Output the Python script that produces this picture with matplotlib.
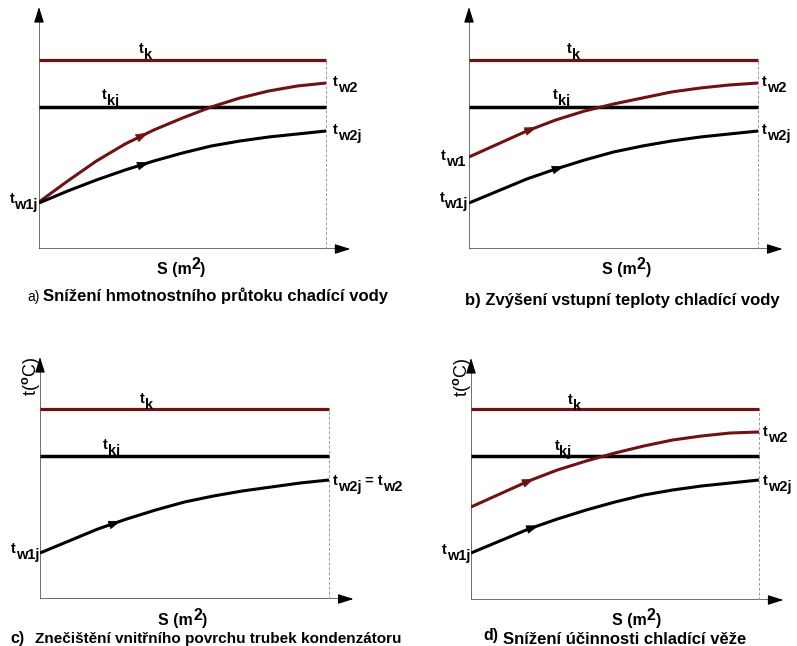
import matplotlib.pyplot as plt
import numpy as np

plt.rcParams['font.family'] = ['Liberation Sans', 'DejaVu Sans']
plt.rcParams['mathtext.fontset'] = 'custom'
plt.rcParams['mathtext.rm'] = 'Liberation Sans:bold'
plt.rcParams['mathtext.it'] = 'Liberation Sans:bold'
plt.rcParams['mathtext.bf'] = 'Liberation Sans:bold'

RED = '#6e1212'

# heat exchange area, fraction of the full length
S = [0.0, 0.1, 0.2, 0.3, 0.4, 0.5, 0.6, 0.7, 0.8, 0.9, 1.0]

# water temperature along the condenser
a_red = [47, 68, 88, 105, 119, 131, 142, 151, 158, 163, 166]
a_black = [46, 58, 69, 79, 88, 96, 103, 108, 112, 115, 118]
b_red = [92, 105, 118, 129, 138, 145, 151, 157, 161, 164, 166]
b_black = [46, 58, 70, 80, 89, 97, 103, 108, 112, 115, 118]
c_black = [46, 58, 70, 80, 89, 97, 103, 108, 112, 116, 119]
d_red = [93, 106, 119, 130, 139, 147, 154, 160, 164, 167, 168]
d_black = [47, 59, 71, 81, 90, 98, 105, 110, 114, 117, 120]

# condensation temperatures
tk = [189, 189, 190, 191]
tkj = [142, 142, 143, 144]

titles = [
    ('a)', 'Snížení hmotnostního průtoku chadící vody'),
    ('b)', 'Zvýšení vstupní teploty chladící vody'),
    ('c)', 'Znečištění vnitřního povrchu trubek kondenzátoru'),
    ('d)', 'Snížení účinnosti chladící věže'),
]

fig = plt.figure(figsize=(7.97, 6.46), dpi=100)
W, H = 797, 646

# y-axis x, x-axis y (pixels), pixels per unit S
frames = [(39, 249, 287), (469, 249, 289), (40, 599, 289), (471, 600, 288)]


def chain(ax, s, v, pieces, ha='left', fs=10.5, **kw):
    # text with sub/superscripts drawn at full size
    order = pieces if ha == 'left' else pieces[::-1]
    prev = None
    prev_dy = 0
    for txt, dy in order:
        if prev is None:
            prev = ax.annotate(txt, xy=(s, v), xytext=(0, dy), textcoords='offset points',
                               ha=ha, va='baseline', fontsize=fs, fontweight='bold',
                               annotation_clip=False, **kw)
        else:
            anchor = (1, 0) if ha == 'left' else (0, 0)
            prev = ax.annotate(txt, xy=anchor, xycoords=prev, xytext=(0, dy - prev_dy),
                               textcoords='offset points', ha=ha, va='bottom',
                               fontsize=fs, fontweight='bold', annotation_clip=False, **kw)
        prev_dy = dy


def tlab(ax, s, v, sub, ha='left'):
    chain(ax, s, v, [('t', 0), (sub, -4)], ha=ha)


axes = []
for (x0, y0, sc) in frames:
    ax = fig.add_axes([x0 / W, (H - y0) / H, 1.1 * sc / W, 245 / H])
    ax.set_xlim(0, 1.1)
    ax.set_ylim(0, 245)
    ax.axis('off')
    axes.append(ax)

curves = [
    [(a_red, RED, 0.38), (a_black, 'black', 0.385)],
    [(b_red, RED, 0.235), (b_black, 'black', 0.33)],
    [(c_black, 'black', 0.28)],
    [(d_red, RED, 0.22), (d_black, 'black', 0.235)],
]

for i, ax in enumerate(axes):
    # axes with arrows
    ax.plot([0, 0], [0, 236], color='#555555', lw=1.2, solid_capstyle='butt')
    ax.plot([0, 1.06], [0, 0], color='#555555', lw=1.2, solid_capstyle='butt')
    ax.annotate('', xy=(0, 242), xytext=(0, 232),
                arrowprops=dict(arrowstyle='-|>,head_length=0.95,head_width=0.3',
                                mutation_scale=10, color='black', lw=0.8,
                                shrinkA=0, shrinkB=0), annotation_clip=False)
    ax.annotate('', xy=(1.085, 0), xytext=(1.05, 0),
                arrowprops=dict(arrowstyle='-|>,head_length=0.95,head_width=0.3',
                                mutation_scale=10, color='black', lw=0.8,
                                shrinkA=0, shrinkB=0), annotation_clip=False)
    ax.plot([1, 1], [0, tk[i]], color='#999999', lw=0.7, ls=(0, (3, 2)))
    ax.plot([0, 1], [tk[i], tk[i]], color=RED, lw=2.3, solid_capstyle='butt')
    ax.plot([0, 1], [tkj[i], tkj[i]], color='black', lw=2.5, solid_capstyle='butt')

    for vals, col, tip in curves[i]:
        ax.plot(S, vals, color=col, lw=2.2, solid_joinstyle='round', solid_capstyle='butt')
        v_tip = np.interp(tip, S, vals)
        v_back = np.interp(tip - 0.03, S, vals)
        ax.annotate('', xy=(tip, v_tip), xytext=(tip - 0.03, v_back),
                    arrowprops=dict(arrowstyle='-|>,head_length=0.8,head_width=0.28',
                                    mutation_scale=10, color=col, lw=0.5,
                                    shrinkA=0, shrinkB=0))

# labels
a, b, c, d = axes
tlab(a, 0.348, tk[0] + 7, 'k')
tlab(a, 0.22, tkj[0] + 8, 'kj')
tlab(a, 1.024, 163, 'w2')
tlab(a, 1.024, 115, 'w2j')
tlab(a, -0.005, 46, 'w1j', ha='right')

tlab(b, 0.34, tk[1] + 7, 'k')
tlab(b, 0.29, tkj[1] + 8, 'kj')
tlab(b, 1.014, 163, 'w2')
tlab(b, 1.014, 115, 'w2j')
tlab(b, -0.014, 89, 'w1', ha='right')
tlab(b, -0.005, 47, 'w1j', ha='right')

tlab(c, 0.346, tk[2] + 6, 'k')
tlab(c, 0.218, tkj[2] + 7, 'kj')
chain(c, 1.014, 114, [('t', 0), ('w2j', -4), (' = t', 0), ('w2', -4)])
tlab(c, -0.003, 46, 'w1j', ha='right')

tlab(d, 0.337, tk[3] + 5, 'k')
tlab(d, 0.29, tkj[3] + 6, 'kj')
tlab(d, 1.014, 164, 'w2')
tlab(d, 1.014, 115, 'w2j')
tlab(d, -0.003, 46, 'w1j', ha='right')

# x labels
for ax, s0, v0 in [(a, 0.41, -25), (b, 0.46, -25), (c, 0.41, -26), (d, 0.49, -25)]:
    chain(ax, s0, v0, [('S (m', 0), ('2', 3.5), (')', 0)], fs=11.5)

# y labels on the lower panels
for ax in (c, d):
    ax.text(-0.03, 223, r't($^{o}$C)', rotation=90, ha='center', va='center', fontsize=13)

# captions
fig.text(27 / W, 1 - 301 / H, titles[0][0], fontsize=10)
fig.text(43 / W, 1 - 301 / H, titles[0][1], fontsize=12, fontweight='bold')
fig.text(465 / W, 1 - 305 / H, titles[1][0] + ' ' + titles[1][1], fontsize=12, fontweight='bold')
fig.text(10 / W, 1 - 643 / H, titles[2][0], fontsize=11.5, fontweight='bold')
fig.text(35 / W, 1 - 643 / H, titles[2][1], fontsize=11, fontweight='bold')
fig.text(483 / W, 1 - 640 / H, titles[3][0], fontsize=11.5, fontweight='bold')
fig.text(503 / W, 1 - 644 / H, titles[3][1], fontsize=12, fontweight='bold')

fig.savefig('out.png', dpi=100)
